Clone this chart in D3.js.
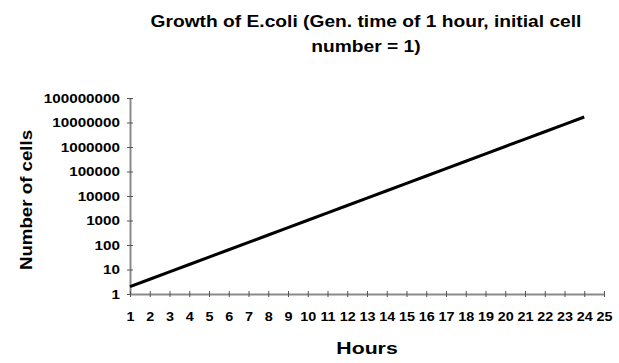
<!DOCTYPE html>
<html>
<head>
<meta charset="utf-8">
<script src="https://cdn.jsdelivr.net/npm/d3@7"></script>
<style>
  body { margin: 0; background: #fff; }
  svg { display: block; }
  text { font-family: Arial, "Liberation Sans", sans-serif; fill: #000; font-weight: bold; }
</style>
</head>
<body>
<script>
// chart data
var hours = d3.range(1, 26);                       // category axis 1..25
var growthHours = d3.range(1, 25);                 // hours with a value
var cellCounts = [2, 4, 8, 16, 32, 64, 128, 256, 512, 1024, 2048, 4096, 8192,
  16384, 32768, 65536, 131072, 262144, 524288, 1048576, 2097152, 4194304,
  8388608, 16777216];
var yTicks = [1, 10, 100, 1000, 10000, 100000, 1000000, 10000000, 100000000];

var width = 619, height = 363;
var plotLeft = 130, plotRight = 604, plotTop = 98, plotBottom = 294;

var svg = d3.select('body').append('svg')
  .attr('width', width)
  .attr('height', height);

var x = d3.scaleLinear().domain([1, 25]).range([plotLeft, plotRight]);
var y = d3.scaleLog().domain([1, 100000000]).range([plotBottom, plotTop]);

// the reference text is a bit wider than Arial, so stretch it sideways
function wideText(px, py, str, size, sx, anchor, rot) {
  return svg.append('text')
    .attr('transform', 'translate(' + px + ',' + py + ')' +
      (rot ? ' rotate(' + rot + ')' : '') + ' scale(' + sx + ',1)')
    .attr('text-anchor', anchor || 'middle')
    .style('font-size', size + 'px')
    .text(str);
}

// title
wideText(366, 27, 'Growth of E.coli (Gen. time of 1 hour, initial cell', 17, 1.13);
wideText(366, 52, 'number = 1)', 17, 1.13);

// y axis
var yAxis = svg.append('g')
  .attr('transform', 'translate(' + plotLeft + ',0)')
  .call(d3.axisLeft(y).tickValues(yTicks).tickFormat(d3.format('d'))
    .tickSizeInner(3).tickSizeOuter(0));
yAxis.select('.domain').attr('stroke', '#8a8a8a').attr('stroke-width', 2);
yAxis.selectAll('.tick line').attr('stroke', '#555').attr('x1', -3).attr('x2', 3);
yAxis.selectAll('.tick text')
  .attr('x', null).attr('dy', '0.35em')
  .attr('transform', 'translate(-10,0) scale(1.27,1)')
  .style('font-size', '12px')
  .style('font-family', 'Arial, "Liberation Sans", sans-serif');

// x axis
var xAxis = svg.append('g')
  .attr('transform', 'translate(0,' + plotBottom + ')')
  .call(d3.axisBottom(x).tickValues(hours).tickFormat(d3.format('d'))
    .tickSizeInner(3).tickSizeOuter(0));
xAxis.select('.domain').attr('stroke', '#8a8a8a').attr('stroke-width', 2);
xAxis.selectAll('.tick line').attr('stroke', '#555').attr('y1', -3).attr('y2', 3);
xAxis.selectAll('.tick text')
  .attr('y', null).attr('dy', null)
  .attr('transform', 'translate(0,27) scale(1.2,1)')
  .style('font-size', '12px')
  .style('font-family', 'Arial, "Liberation Sans", sans-serif');

// growth line
var line = d3.line()
  .x(function(d, i) { return x(growthHours[i]); })
  .y(function(d) { return y(d); });

svg.append('path')
  .datum(cellCounts)
  .attr('d', line)
  .attr('fill', 'none')
  .attr('stroke', '#000')
  .attr('stroke-width', 3);

// axis titles
wideText(32, 200, 'Number of cells', 17, 1.1, 'middle', -90);
wideText(367, 354, 'Hours', 17, 1.25);
</script>
</body>
</html>
